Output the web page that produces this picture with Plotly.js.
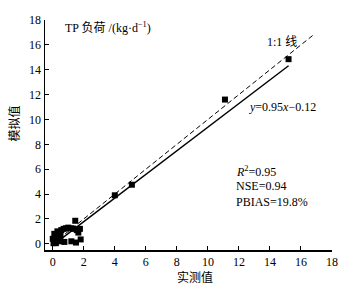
<!DOCTYPE html>
<html><head><meta charset="utf-8">
<script src="https://cdn.plot.ly/plotly-3.0.1.min.js"></script>
<style>body{margin:0;background:#fff}#c{width:364px;height:290px}</style>
</head><body><div id="c"></div>
<script>
const observed = [0.05,0.1,0.15,0.2,0.3,0.1,0.4,0.5,0.55,0.7,0.85,1.0,1.2,1.35,1.45,1.55,1.65,1.75,0.3,0.5,0.75,1.2,1.5,1.8,0.2,0.45,0.0,0.3,4.0,5.1,11.1,15.2];
const simulated = [0.05,0.25,0.45,0.6,0.75,0.8,0.95,0.7,1.1,1.2,1.25,1.3,1.25,1.2,1.85,1.1,0.9,1.2,0.3,0.2,0.15,0.2,0.1,0.35,0.05,0.45,0.4,1.0,3.9,4.75,11.6,14.85];
const fitX = [0.5, 15.2];
const fitSlope = 0.95, fitIntercept = -0.12;
const oneToOne = [0, 16.8];
const xTicks = [0,2,4,6,8,10,12,14,16,18];
const yTicks = [0,2,4,6,8,10,12,14,16,18];
const labels = {
  unit: 'TP 负荷 /(kg·d<sup>−1</sup>)',
  line11: '1:1 线',
  eq: '<i>y</i>=0.95<i>x</i>−0.12',
  r2: '<i>R</i><sup>2</sup>=0.95',
  nse: 'NSE=0.94',
  pbias: 'PBIAS=19.8%',
  xt: '实测值',
  yt: '模拟值'
};
const F = '"Liberation Serif","Times New Roman","Noto Sans CJK SC",serif';
const traces = [
  {x: oneToOne, y: oneToOne, mode:'lines', line:{color:'#000', width:1, dash:'5px,3px'}, hoverinfo:'skip'},
  {x: fitX, y: fitX.map(v=>fitSlope*v+fitIntercept), mode:'lines', line:{color:'#000', width:1.5}, hoverinfo:'skip'},
  {x: observed, y: simulated, mode:'markers', marker:{symbol:'square', size:6, color:'#000'}}
];
const ax = {
  showline:true, linecolor:'#000', linewidth:1.5, ticks:'inside', ticklen:4, tickwidth:1, tickcolor:'#000',
  showgrid:false, zeroline:false, tickfont:{family:F, size:12, color:'#000'}, mirror:false
};
const ann = (x,y,t)=>({x, y, xref:'x', yref:'y', text:t, showarrow:false, xanchor:'left', yanchor:'middle', font:{family:F, size:12, color:'#000'}});
const layout = {
  width:364, height:290, margin:{l:45, r:32, t:19.5, b:40},
  paper_bgcolor:'#fff', plot_bgcolor:'#fff', showlegend:false,
  xaxis: Object.assign({}, ax, {range:[-0.5,18], tickvals:xTicks}),
  yaxis: Object.assign({}, ax, {range:[-0.5,18], tickvals:yTicks}),
  annotations: [
    ann(0.65,17.4,labels.unit),
    ann(13.7,16.2,labels.line11),
    ann(12.5,11.0,labels.eq),
    ann(11.7,5.85,labels.r2),
    ann(11.7,4.65,labels.nse),
    ann(11.7,3.4,labels.pbias),
    {xref:'paper', yref:'paper', x:0.523, y:-0.121, text:labels.xt, showarrow:false, xanchor:'center', yanchor:'middle', font:{family:F,size:12,color:'#000'}},
    {xref:'paper', yref:'paper', x:-0.108, y:0.55, text:labels.yt, textangle:-90, showarrow:false, xanchor:'center', yanchor:'middle', font:{family:F,size:12,color:'#000'}}
  ]
};
Plotly.newPlot('c', traces, layout, {displayModeBar:false, staticPlot:true});
</script></body></html>
